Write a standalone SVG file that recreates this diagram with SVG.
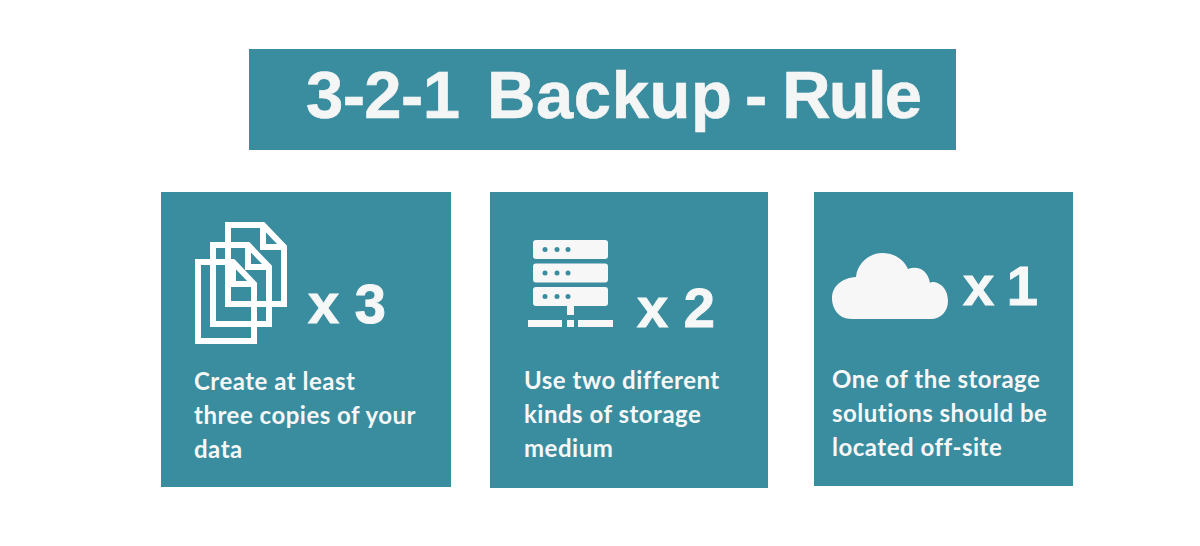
<svg xmlns="http://www.w3.org/2000/svg" width="1200" height="546" viewBox="0 0 1200 546">
<style>
.box{fill:#3a8d9f}
.title{font:bold 67px "Liberation Sans",Arial,sans-serif;fill:#f4f5f5;stroke:#f4f5f5;stroke-width:.6}
.mult{font:bold 56px "Liberation Sans",Arial,sans-serif;fill:#f6f7f7;stroke:#f6f7f7;stroke-width:1}
.body{font:700 24px Lato,"Open Sans",sans-serif;letter-spacing:.5px;fill:#f6f7f7}
.doc{fill:none;stroke:#fff;stroke-width:6}
.solid{fill:#f7f7f7}
.dot{fill:#3a8d9f}
</style>
<defs>
<g id="doc"><path class="doc" d="M3 3H38L59 25V82H3Z"/><path class="doc" d="M38 3V25H59"/></g>
<g id="bar"><rect width="75" height="19" rx="3" class="solid"/><circle cx="12" cy="9.500" r="2.500" class="dot"/><circle cx="24" cy="9.500" r="2.500" class="dot"/><circle cx="35" cy="9.500" r="2.500" class="dot"/></g>
</defs>
<rect width="1200" height="546" fill="#fff"/>
<g id="title"><rect class="box" x="249" y="49" width="707" height="101"/>
<text class="title" x="306" y="118" textLength="154">3-2-1</text><text class="title" x="487" y="118" textLength="245">Backup</text><text class="title" x="745" y="118" textLength="177">- Rule</text></g>
<g id="card-3"><rect class="box" x="161" y="192" width="290" height="295"/>
<use href="#doc" x="225" y="222"/><use href="#doc" x="210" y="242"/><use href="#doc" x="195" y="259"/>
<text class="mult" x="308" y="323">x 3</text>
<text class="body"><tspan x="194" y="390">Create at least</tspan><tspan x="194" y="424">three copies of your</tspan><tspan x="194" y="458">data</tspan></text></g>
<g id="card-2"><rect class="box" x="490" y="192" width="278" height="296"/>
<use href="#bar" x="533" y="240"/><use href="#bar" x="533" y="263.500"/><use href="#bar" x="533" y="287"/>
<path class="solid" d="M567 306h7v9h-7zM528 320h34v7h-34zM567 320h7v7h-7zM578 320h35v7h-35z"/>
<text class="mult" x="637" y="327">x 2</text>
<text class="body"><tspan x="524" y="389">Use two different</tspan><tspan x="524" y="423">kinds of storage</tspan><tspan x="524" y="457">medium</tspan></text></g>
<g id="card-1"><rect class="box" x="814" y="192" width="259" height="294"/>
<path class="solid" d="M852 319C838 319 832 308 832 298C832 287 841 278 856 277C857 264 869 253 882 253C895 253 904 260 908 269C919 265 928 271 930 283C933 280 948 284 948 301C948 312 940 319 931 319Z"/>
<text class="mult" x="963" y="305" textLength="75">x 1</text>
<text class="body"><tspan x="832" y="388">One of the storage</tspan><tspan x="832" y="422">solutions should be</tspan><tspan x="832" y="456">located off-site</tspan></text></g>
</svg>
